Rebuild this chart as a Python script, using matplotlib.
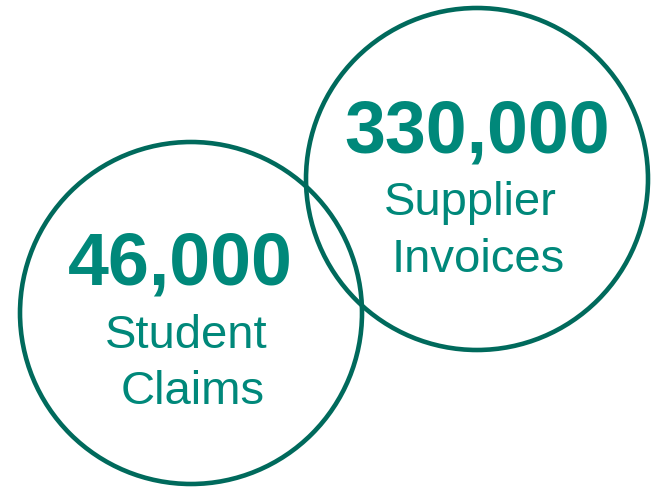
import matplotlib
matplotlib.use("Agg")
import matplotlib.pyplot as plt
from matplotlib.patches import Circle

# data
values = ["46,000", "330,000"]
line1 = ["Student", "Supplier"]
line2 = ["Claims", "Invoices"]

# layout (pixels, y down)
centers = [(191, 314), (477, 180)]
radius = 171
num_x = [180.5, 477.5]
num_y = [285, 153]
l1_x = [186, 470.5]
l1_y = [348, 215]
l2_x = [192.5, 478]
l2_y = [404, 272]

ring = "#006A5C"
txt = "#00887A"

fig = plt.figure(figsize=(6.54, 4.89), dpi=100)
ax = fig.add_axes([0, 0, 1, 1])
ax.set_xlim(0, 654)
ax.set_ylim(489, 0)
ax.set_aspect("equal")
ax.axis("off")

for i in range(len(values)):
    ax.add_patch(Circle(centers[i], radius, fill=False, edgecolor=ring, linewidth=3.3))
    ax.text(num_x[i], num_y[i], values[i], ha="center", va="baseline",
            fontsize=53, fontweight="bold", color=txt, family="Liberation Sans")
    ax.text(l1_x[i], l1_y[i], line1[i], ha="center", va="baseline",
            fontsize=34, color=txt, family="Liberation Sans")
    ax.text(l2_x[i], l2_y[i], line2[i], ha="center", va="baseline",
            fontsize=34, color=txt, family="Liberation Sans")

fig.savefig("out.png", dpi=100)
